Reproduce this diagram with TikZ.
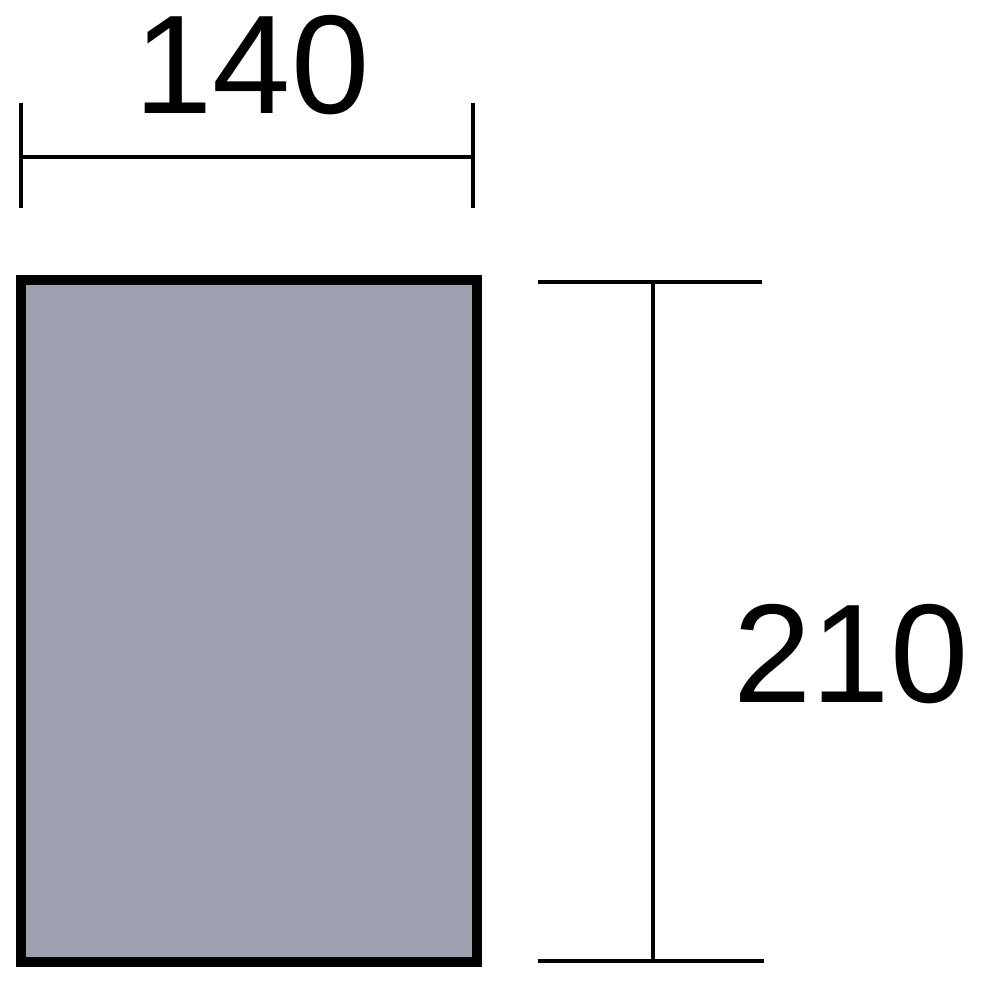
\documentclass[tikz,border=0pt]{standalone}
\usepackage{fontspec}
\setmainfont{Liberation Sans}
\definecolor{sheet}{HTML}{9EA1AF}
\begin{document}
\begin{tikzpicture}[x=0.01cm,y=-0.01cm,
  dim/.style={line width=0.4mm, black},
  lbl/.style={inner sep=0pt, font=\fontsize{40}{40}\selectfont}]
\useasboundingbox (0,0) rectangle (1000,1000);
% sheet
\draw[line width=1mm, fill=sheet] (21,280) rectangle (477,962);
% top dimension
\coordinate (tl) at (22,157);
\coordinate (tr) at (473,157);
\draw[dim] (21,103) -- (21,208);
\draw[dim] (473,103) -- (473,208);
\draw[dim] (tl) -- (tr);
\node[lbl, anchor=base] (w) at (252,113) {140};
% right dimension
\coordinate (rt) at (653,283);
\coordinate (rb) at (653,961);
\draw[dim] (538,282) -- (762,282);
\draw[dim] (538,961) -- (764,961);
\draw[dim] (rt) -- (rb);
\node[lbl, anchor=base] (h) at (851,702) {210};
\end{tikzpicture}
\end{document}
